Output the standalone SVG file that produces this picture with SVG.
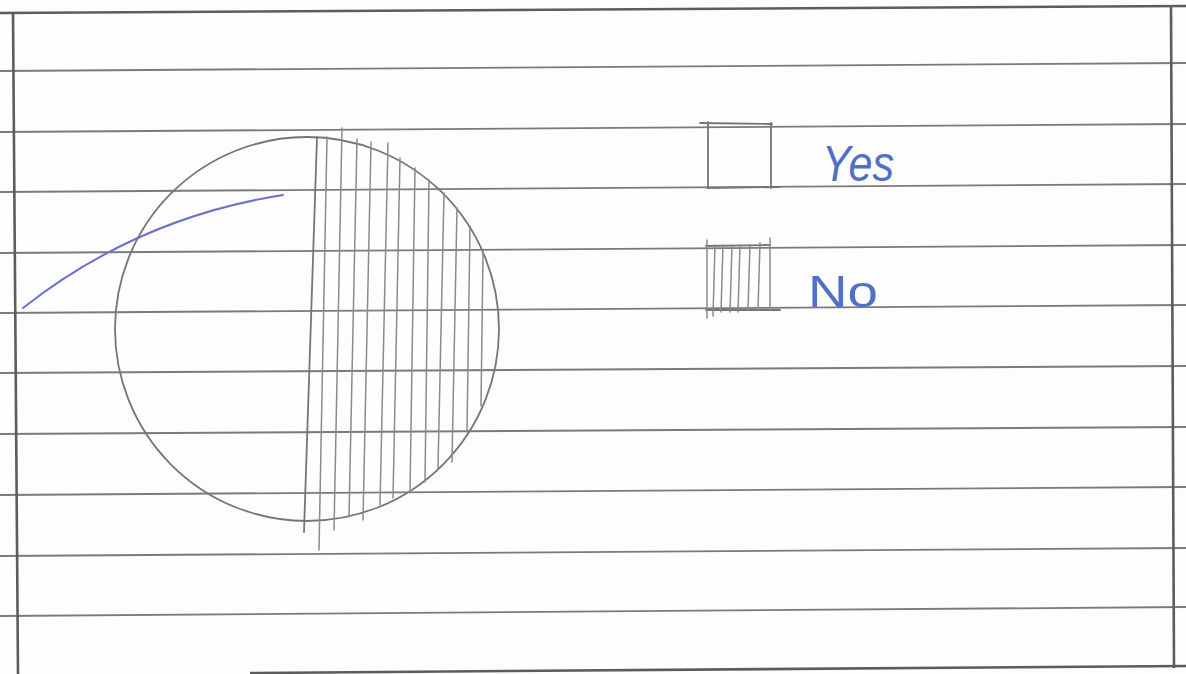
<svg xmlns="http://www.w3.org/2000/svg" width="1186" height="674" viewBox="0 0 1186 674">
  <style>
    .rule { stroke: #7a7a7a; stroke-width: 1.8; fill: none; }
    .border { stroke: #5c5c5c; stroke-width: 2.6; fill: none; }
    .pencil { stroke: #757575; stroke-width: 1.8; fill: none; stroke-linecap: round; }
    .hatch { stroke: #8a8a8a; stroke-width: 1.5; fill: none; stroke-linecap: round; }
    .ink { fill: #4f70c4; font-family: "Liberation Sans", Arial, sans-serif; }
    .slant { font-style: italic; }
    .upright { font-style: normal; }
  </style>
  <rect x="0" y="0" width="1186" height="674" fill="#fdfdfd"/>
  <g id="paper">
    <line class="border" x1="0" y1="13" x2="1186" y2="6"/>
    <line class="rule" x1="0" y1="71" x2="1186" y2="63"/>
    <line class="rule" x1="0" y1="132" x2="1186" y2="124"/>
    <line class="rule" x1="0" y1="192" x2="1186" y2="184"/>
    <line class="rule" x1="0" y1="253" x2="1186" y2="245"/>
    <line class="rule" x1="0" y1="313" x2="1186" y2="305"/>
    <line class="rule" x1="0" y1="373" x2="1186" y2="366"/>
    <line class="rule" x1="0" y1="434" x2="1186" y2="427"/>
    <line class="rule" x1="0" y1="495" x2="1186" y2="487"/>
    <line class="rule" x1="0" y1="556" x2="1186" y2="548"/>
    <line class="rule" x1="0" y1="616" x2="1186" y2="607"/>
    <line class="border" x1="250" y1="673" x2="1186" y2="666"/>
    <line class="border" x1="13" y1="13" x2="18" y2="674"/>
    <line class="border" x1="1171" y1="6" x2="1174" y2="668"/>
  </g>
  <g id="pie">
    <circle class="pencil" cx="307" cy="329" r="192"/>
    <line class="pencil" x1="317" y1="137" x2="304" y2="532"/>
    <g id="no-slice">
      <line class="hatch" x1="327" y1="137" x2="319" y2="550"/>
      <line class="hatch" x1="342" y1="128" x2="334" y2="530"/>
      <line class="hatch" x1="357" y1="139" x2="349" y2="517"/>
      <line class="hatch" x1="371" y1="142" x2="363" y2="520"/>
      <line class="hatch" x1="388" y1="143" x2="380" y2="505"/>
      <line class="hatch" x1="400" y1="158" x2="393" y2="498"/>
      <line class="hatch" x1="415" y1="168" x2="410" y2="492"/>
      <line class="hatch" x1="429" y1="180" x2="425" y2="482"/>
      <line class="hatch" x1="444" y1="193" x2="438" y2="468"/>
      <line class="hatch" x1="457" y1="208" x2="452" y2="462"/>
      <line class="hatch" x1="470" y1="226" x2="467" y2="432"/>
      <line class="hatch" x1="483" y1="252" x2="481" y2="406"/>
    </g>
  </g>
  <g id="connectors">
    <path d="M23,308 Q137,218 283,195" fill="none" stroke="#6a70cc" stroke-width="2" stroke-linecap="round"/>
  </g>
  <g id="legend-yes">
    <line class="pencil" x1="700" y1="123" x2="772" y2="124"/>
    <line class="pencil" x1="708" y1="122" x2="708" y2="188"/>
    <line class="pencil" x1="771" y1="123" x2="771" y2="188"/>
    <line class="pencil" x1="707" y1="188" x2="780" y2="187"/>
    <text class="ink slant" x="822" y="181" font-size="50" textLength="72" lengthAdjust="spacingAndGlyphs">Yes</text>
  </g>
  <g id="legend-no">
    <line class="pencil" x1="706" y1="246" x2="770" y2="245"/>
    <line class="pencil" x1="706" y1="310" x2="780" y2="310"/>
    <line class="hatch" x1="707" y1="240" x2="707" y2="318"/>
    <line class="hatch" x1="715" y1="245" x2="713" y2="316"/>
    <line class="hatch" x1="723" y1="245" x2="721" y2="312"/>
    <line class="hatch" x1="732" y1="245" x2="730" y2="312"/>
    <line class="hatch" x1="740" y1="245" x2="738" y2="312"/>
    <line class="hatch" x1="750" y1="245" x2="748" y2="310"/>
    <line class="hatch" x1="760" y1="243" x2="758" y2="310"/>
    <line class="hatch" x1="770" y1="238" x2="770" y2="310"/>
    <text class="ink upright" x="808" y="307" font-size="44" textLength="70" lengthAdjust="spacingAndGlyphs">No</text>
  </g>
</svg>
